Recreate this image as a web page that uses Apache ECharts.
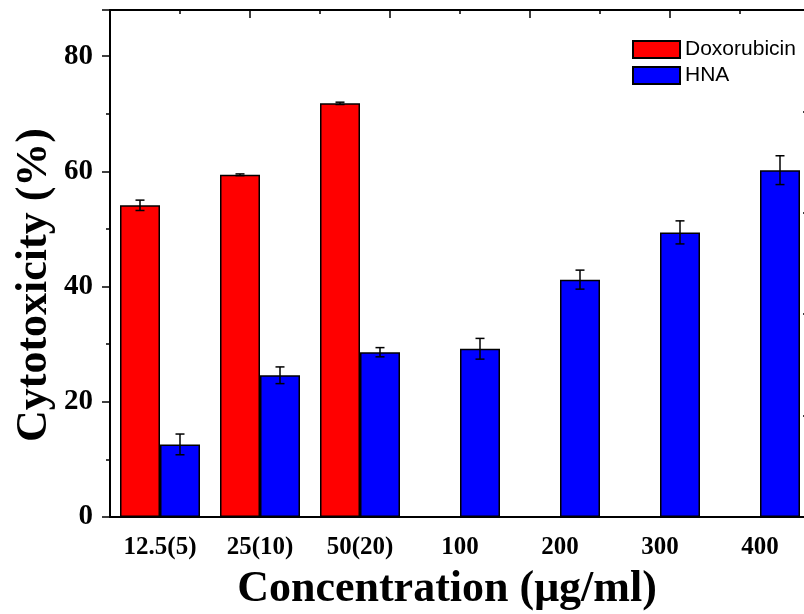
<!DOCTYPE html>
<html>
<head>
<meta charset="utf-8">
<script src="https://cdn.jsdelivr.net/npm/echarts@6/dist/echarts.min.js"></script>
<style>html,body{margin:0;padding:0;background:#fff}#c{width:804px;height:614px}</style>
</head>
<body>
<div id="c"></div>
<script>
var categories = ['12.5(5)', '25(10)', '50(20)', '100', '200', '300', '400'];
var doxValues = [54.1, 59.4, 71.8, null, null, null, null];
var doxErrors = [0.9, 0.15, 0.2, null, null, null, null];
var hnaValues = [12.6, 24.6, 28.6, 29.2, 41.2, 49.4, 60.2];
var hnaErrors = [1.8, 1.45, 0.8, 1.8, 1.65, 2.0, 2.5];
var yTicks = [0, 20, 40, 60, 80];

var serif = '"Liberation Serif", "Times New Roman", serif';
var sans = '"Liberation Sans", Arial, sans-serif';

function errData(vals, errs) {
  var out = [];
  for (var i = 0; i < vals.length; i++) {
    if (vals[i] != null && errs[i] != null) out.push([i, vals[i], errs[i]]);
  }
  return out;
}

function errRenderer(side) {
  return function (params, api) {
    var idx = api.value(0), v = api.value(1), e = api.value(2);
    var band = api.size([1, 0])[0];
    var off = side * band * 0.2;
    var hi = api.coord([idx, v + e]);
    var lo = api.coord([idx, v - e]);
    var x = hi[0] + off;
    var cap = 4.5;
    var st = { stroke: '#000', lineWidth: 1.5 };
    return {
      type: 'group',
      children: [
        { type: 'line', shape: { x1: x, y1: hi[1], x2: x, y2: lo[1] }, style: st },
        { type: 'line', shape: { x1: x - cap, y1: hi[1], x2: x + cap, y2: hi[1] }, style: st },
        { type: 'line', shape: { x1: x - cap, y1: lo[1], x2: x + cap, y2: lo[1] }, style: st }
      ]
    };
  };
}

var chart = echarts.init(document.getElementById('c'), null, { renderer: 'canvas' });
chart.setOption({
  animation: false,
  backgroundColor: '#fff',
  grid: { left: 110, width: 700, top: 10, height: 507, outerBoundsMode: 'none', containLabel: false },
  legend: {
    orient: 'vertical',
    left: 632, top: 39,
    padding: 0,
    itemWidth: 47, itemHeight: 17, itemGap: 5,
    icon: 'rect',
    textStyle: { fontFamily: sans, fontSize: 21, lineHeight: 17, color: '#000' },
    data: ['Doxorubicin', 'HNA']
  },
  graphic: [{
    type: 'text',
    x: 35, y: 285,
    rotation: Math.PI / 2,
    style: {
      text: 'Cytotoxicity (%)',
      font: 'bold 44px ' + serif,
      fill: '#000',
      align: 'center',
      verticalAlign: 'middle'
    }
  }, {
    type: 'text',
    x: 447, y: 568,
    style: {
      text: 'Concentration (μg/ml)',
      font: 'bold 44px ' + serif,
      fill: '#000',
      align: 'center',
      verticalAlign: 'top'
    }
  }],
  xAxis: [{
    type: 'category',
    data: categories,
    position: 'bottom',
    axisLine: { lineStyle: { color: '#000', width: 2 } },
    axisTick: { alignWithLabel: true, length: 7, lineStyle: { color: '#000', width: 1.5 } },
    axisLabel: { fontFamily: serif, fontWeight: 'bold', fontSize: 25, color: '#000', margin: 18, interval: 0 },
    splitLine: { show: false }
  }, {
    type: 'value',
    position: 'top',
    min: 0, max: 5, interval: 1,
    axisLine: { show: true, onZero: false, lineStyle: { color: '#000', width: 2 } },
    axisTick: { inside: true, length: 8, lineStyle: { color: '#000', width: 1.5 } },
    minorTick: { show: true, splitNumber: 2, length: 4, lineStyle: { color: '#000', width: 1.5 } },
    axisLabel: { show: false },
    splitLine: { show: false }
  }],
  yAxis: [{
    type: 'value',
    min: 0, max: 88, interval: 20,
    position: 'left',
    axisLine: { show: true, lineStyle: { color: '#000', width: 2 } },
    axisTick: { show: true, length: 8, lineStyle: { color: '#000', width: 1.5 } },
    minorTick: { show: true, splitNumber: 2, length: 4, lineStyle: { color: '#000', width: 1.5 } },
    axisLabel: {
      fontFamily: serif, fontWeight: 'bold', fontSize: 29, color: '#000', margin: 17,
      formatter: function (v) { return yTicks.indexOf(v) >= 0 ? String(v) : ''; }
    },
    splitLine: { show: false }
  }, {
    type: 'value',
    min: 0, max: 5, interval: 1,
    position: 'right',
    axisLine: { show: true, onZero: false, lineStyle: { color: '#000', width: 2 } },
    axisTick: { show: true, inside: true, length: 7, lineStyle: { color: '#000', width: 1.5 } },
    axisLabel: { show: false },
    splitLine: { show: false }
  }],
  series: [{
    name: 'Doxorubicin',
    type: 'bar',
    data: doxValues,
    barGap: '0%',
    barCategoryGap: '20%',
    itemStyle: { color: '#ff0000', borderColor: '#000', borderWidth: 1.5 }
  }, {
    name: 'HNA',
    type: 'bar',
    data: hnaValues,
    barGap: '0%',
    barCategoryGap: '20%',
    itemStyle: { color: '#0000ff', borderColor: '#000', borderWidth: 1.5 }
  }, {
    type: 'custom',
    renderItem: errRenderer(-1),
    data: errData(doxValues, doxErrors),
    z: 5,
    silent: true
  }, {
    type: 'custom',
    renderItem: errRenderer(1),
    data: errData(hnaValues, hnaErrors),
    z: 5,
    silent: true
  }]
});
</script>
</body>
</html>
